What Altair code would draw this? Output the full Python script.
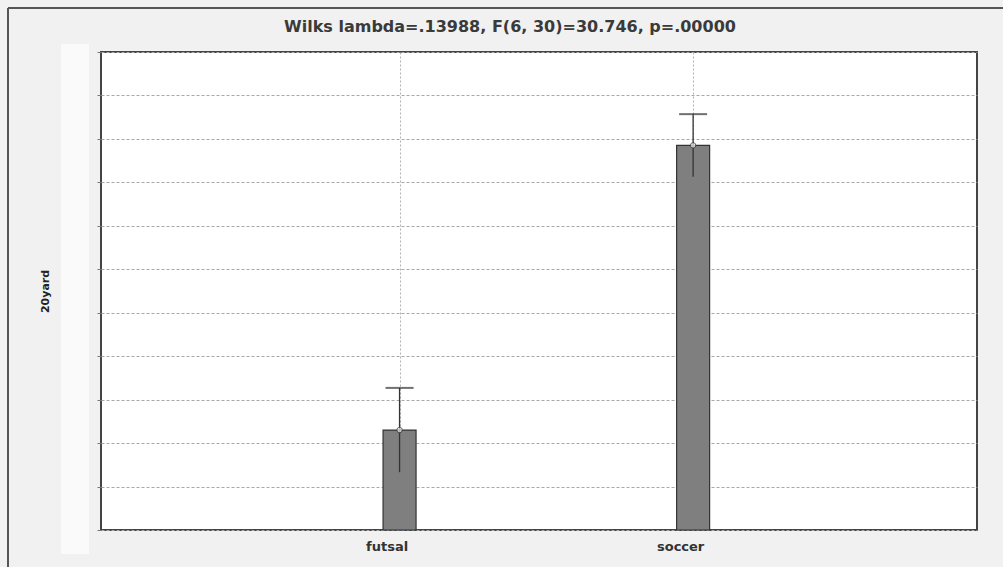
import altair as alt
import pandas as pd

# Group means with their error half-widths
groups = ["futsal", "soccer"]
means = [2.3, 8.85]
errors = [0.97, 0.72]
y_ticks = list(range(0, 12))
title_text = "Wilks lambda=.13988, F(6, 30)=30.746, p=.00000"

df = pd.DataFrame({
    "group": groups,
    "pos": [i + 1 for i in range(len(groups))],
    "mean": means,
    "err": errors,
})
df["lo"] = df["mean"] - df["err"]
df["hi"] = df["mean"] + df["err"]

FONT = "DejaVu Sans"

x_enc = alt.X(
    "pos:Q",
    scale=alt.Scale(domain=[0, 2.95], nice=False, zero=False),
    axis=alt.Axis(
        values=[1, 2],
        labelExpr="datum.value == 1 ? 'futsal' : 'soccer'",
        title=None,
        grid=True,
        gridColor="#b0b0b0",
        gridDash=[2, 2],
        gridWidth=1,
        ticks=False,
        domain=False,
        labelFontSize=13,
        labelFontWeight="bold",
        labelColor="#333",
        labelPadding=10,
        labelOffset=-13,
        labelFont=FONT,
    ),
)
y_scale = alt.Scale(domain=[0, 11], nice=False)
y_axis = alt.Axis(
    values=y_ticks,
    labels=False,
    ticks=True,
    tickSize=4,
    tickColor="#777",
    domain=False,
    grid=True,
    gridColor="#a8a8a8",
    gridDash=[3, 2],
    gridWidth=1,
    title="20yard",
    titleFontSize=11,
    titleFont=FONT,
    titleFontWeight="bold",
    titleColor="#222",
    titlePadding=46,
)

base = alt.Chart(df)

bars = base.mark_bar(size=33, color="#7f7f7f", stroke="#333333", strokeWidth=1.2).encode(
    x=x_enc,
    y=alt.Y("mean:Q", scale=y_scale, axis=y_axis),
)

whisker = base.mark_rule(color="#333333", strokeWidth=1.3).encode(
    x="pos:Q",
    y="lo:Q",
    y2="hi:Q",
)

caps = base.mark_tick(color="#333333", thickness=2, size=28, orient="horizontal").encode(
    x="pos:Q",
    y="hi:Q",
)

centers = base.mark_point(shape="circle", size=30, filled=True, fill="#f2f2f2",
                          stroke="#333333", strokeWidth=1).encode(
    x="pos:Q",
    y="mean:Q",
)

# outer frame edges
frame_top = alt.Chart(df).mark_rule(color="#555555", strokeWidth=2).encode(
    x=alt.value(-93), x2=alt.value(902), y=alt.value(-44)
)
frame_left = alt.Chart(df).mark_rule(color="#555555", strokeWidth=2).encode(
    x=alt.value(-93), y=alt.value(-44), y2=alt.value(515)
)
label_strip = alt.Chart(df).mark_rect(color="#fafafa").encode(
    x=alt.value(-40), x2=alt.value(-12), y=alt.value(-8), y2=alt.value(24 + 478)
)

heading = alt.Chart(pd.DataFrame({"t": [title_text]})).mark_text(
    font=FONT, fontSize=16, fontWeight="bold", color="#3a3a3a",
    align="center", baseline="middle",
).encode(
    text="t:N", x=alt.value(409), y=alt.value(-25)
)

chart = alt.layer(frame_top, frame_left, label_strip, bars, whisker, caps, centers, heading).properties(
    width=876,
    height=478,
    background="#f1f1f1",
    padding={"left": 101, "top": 52, "right": 26, "bottom": 37},
    autosize=alt.AutoSizeParams(type="none"),
).configure_view(
    fill="white",
    stroke="#444444",
    strokeWidth=2,
)

chart.save("out.html", embed_options={"renderer": "svg", "actions": False})
